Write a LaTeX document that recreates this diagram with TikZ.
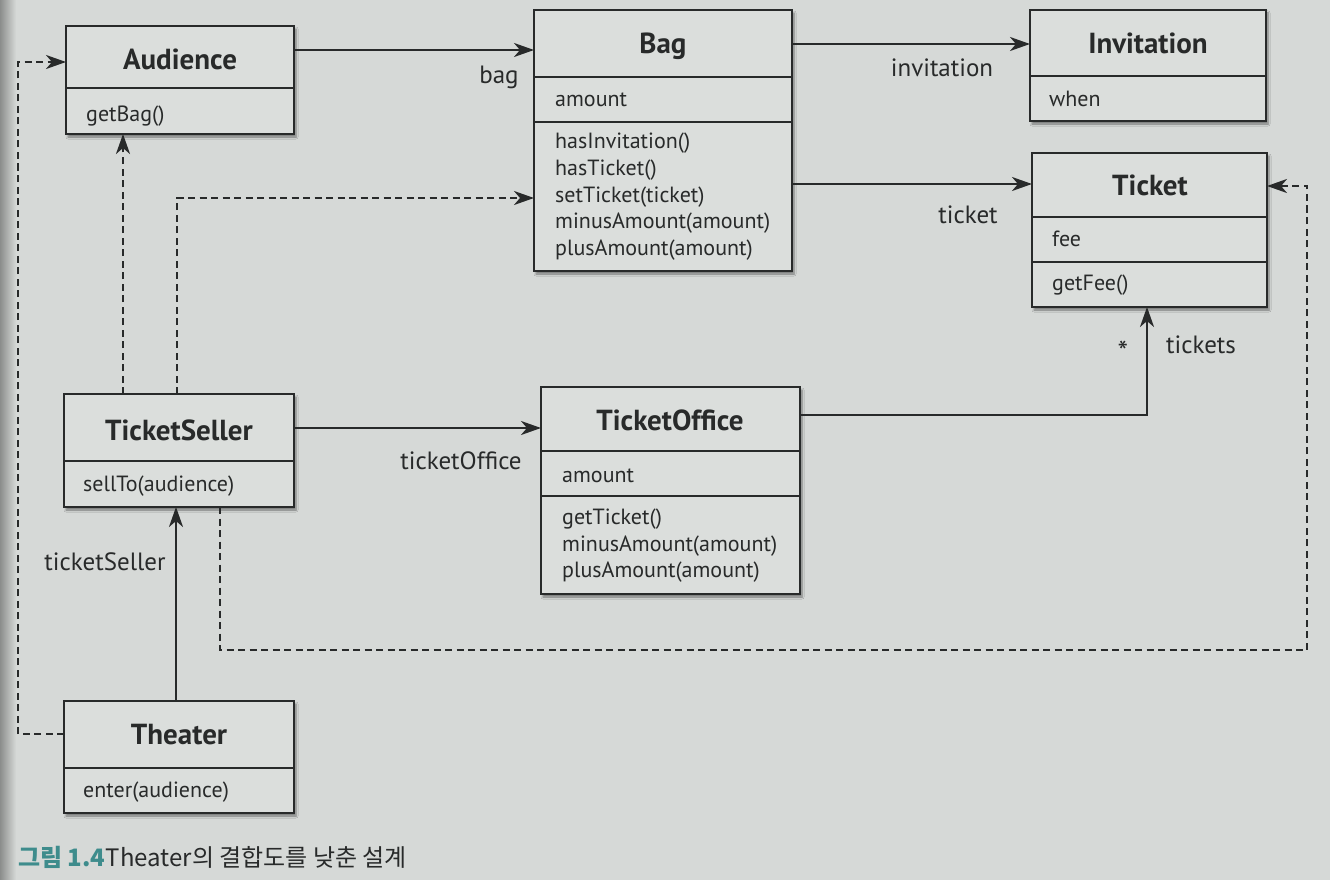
\documentclass[tikz,border=0pt]{standalone}
\usepackage{fontspec}
\setmainfont{PT Sans}
\newfontfamily\krfont{Noto Sans CJK KR}
\usetikzlibrary{arrows.meta,shadows.blur}
\definecolor{bgc}{RGB}{214,217,215}
\definecolor{boxc}{RGB}{219,222,220}
\definecolor{inkc}{RGB}{40,42,42}
\definecolor{tealc}{RGB}{62,140,140}
\tikzset{
  umlbox/.style={draw=inkc, line width=2.2pt, fill=boxc, anchor=north west,
    inner sep=0pt, outer sep=0pt,
    blur shadow={shadow xshift=2pt, shadow yshift=-3pt, shadow blur steps=6, shadow opacity=45}},
  ttl/.style={font=\fontsize{29}{32}\selectfont\bfseries, text=inkc, inner sep=0pt},
  mem/.style={font=\fontsize{22}{26}\selectfont, text=inkc, anchor=west, inner sep=0pt},
  lbl/.style={font=\fontsize{25}{28}\selectfont, text=inkc, inner sep=0pt},
  divl/.style={draw=inkc, line width=2pt},
  arr/.style={draw=inkc, line width=2.3pt, -{Stealth[length=20pt,width=14pt,inset=6pt]}},
  darr/.style={arr, dash pattern=on 7pt off 4.5pt},
}
\begin{document}
\begin{tikzpicture}[x=1pt,y=-1pt]
\useasboundingbox (0,0) rectangle (1330,880);
\fill[bgc] (0,0) rectangle (1330,880);
\shade[left color=black!35!bgc, right color=bgc] (0,0) rectangle (16,880);

% Audience
\node[umlbox, minimum width=228pt, minimum height=108pt] (aud) at (66,26) {};
\draw[divl] (66,88) -- (294,88);
\node[ttl] (audt) at (180,59) {Audience};
\node[mem] (audm) at (86,116) {getBag()};

% Bag
\node[umlbox, minimum width=258pt, minimum height=261pt] (bag) at (534,10) {};
\draw[divl] (534,77) -- (792,77);
\draw[divl] (534,122) -- (792,122);
\node[ttl] (bagt) at (663,46) {Bag};
\node[mem] (baga) at (555,100) {amount};
\node[mem] (bagm1) at (555,143) {hasInvitation()};
\node[mem] (bagm2) at (555,170) {hasTicket()};
\node[mem] (bagm3) at (555,197) {setTicket(ticket)};
\node[mem] (bagm4) at (555,223) {minusAmount(amount)};
\node[mem] (bagm5) at (555,250) {plusAmount(amount)};

% Invitation
\node[umlbox, minimum width=236pt, minimum height=111pt] (inv) at (1030,10) {};
\draw[divl] (1030,76) -- (1266,76);
\node[ttl] (invt) at (1148,43) {Invitation};
\node[mem] (inva) at (1049,99) {when};

% Ticket
\node[umlbox, minimum width=235pt, minimum height=154pt] (tkt) at (1032,153) {};
\draw[divl] (1032,217) -- (1267,217);
\draw[divl] (1032,262) -- (1267,262);
\node[ttl] (tktt) at (1150,185) {Ticket};
\node[mem] (tkta) at (1052,239) {fee};
\node[mem] (tktm) at (1052,285) {getFee()};

% TicketSeller
\node[umlbox, minimum width=230pt, minimum height=113pt] (ts) at (64,394) {};
\draw[divl] (64,461) -- (294,461);
\node[ttl] (tst) at (179,430) {TicketSeller};
\node[mem] (tsm) at (83,486) {sellTo(audience)};

% TicketOffice
\node[umlbox, minimum width=259pt, minimum height=207pt] (to) at (541,387) {};
\draw[divl] (541,451) -- (800,451);
\draw[divl] (541,496) -- (800,496);
\node[ttl] (tot) at (670,420) {TicketOffice};
\node[mem] (toa) at (562,476) {amount};
\node[mem] (tom1) at (562,519) {getTicket()};
\node[mem] (tom2) at (562,546) {minusAmount(amount)};
\node[mem] (tom3) at (562,572) {plusAmount(amount)};

% Theater
\node[umlbox, minimum width=230pt, minimum height=112pt] (thr) at (64,701) {};
\draw[divl] (64,768) -- (294,768);
\node[ttl] (thrt) at (179,735) {Theater};
\node[mem] (thrm) at (83,792) {enter(audience)};

% solid associations
\draw[arr] (aud.east |- 0,50) -- (bag.west |- 0,50);
\node[lbl] (lbag) at (499,77) {bag};
\draw[arr] (bag.east |- 0,44) -- (inv.west |- 0,44);
\node[lbl] (linv) at (942,68) {invitation};
\draw[arr] (bag.east |- 0,184) -- (tkt.west |- 0,184);
\node[lbl] (ltkt) at (968,215) {ticket};
\draw[arr] (ts.east |- 0,428) -- (to.west |- 0,428);
\node[lbl] (lto) at (461,461) {ticketOffice};
\draw[arr] (to.east |- 0,415) -| (tkt.south -| 1147,0);
\node[lbl, anchor=base, font=\fontsize{30}{32}\selectfont] (lstar) at (1123,362) {*};
\node[lbl] (ltkts) at (1201,345) {tickets};
\draw[arr] (thr.north -| 176,0) -- (ts.south -| 176,0);
\node[lbl] (lts) at (105,562) {ticketSeller};

% dependencies
\draw[darr] (thr.west |- 0,734) -| (18,62) -- (aud.west |- 0,62);
\draw[darr] (ts.north -| 123,0) -- (aud.south -| 123,0);
\draw[darr] (ts.north -| 177,0) |- (bag.west |- 0,198);
\draw[darr] (ts.south -| 220,0) |- (1307,650) |- (tkt.east |- 0,186);

% caption
\node[anchor=west, inner sep=0pt, font=\krfont\fontsize{24}{28}\selectfont\bfseries, text=tealc] (capn) at (18,857) {그림 1.4};
\node[anchor=west, inner sep=0pt, font=\krfont\fontsize{24}{28}\selectfont, text=inkc] (capt) at (capn.east) {Theater의 결합도를 낮춘 설계};
\end{tikzpicture}
\end{document}
